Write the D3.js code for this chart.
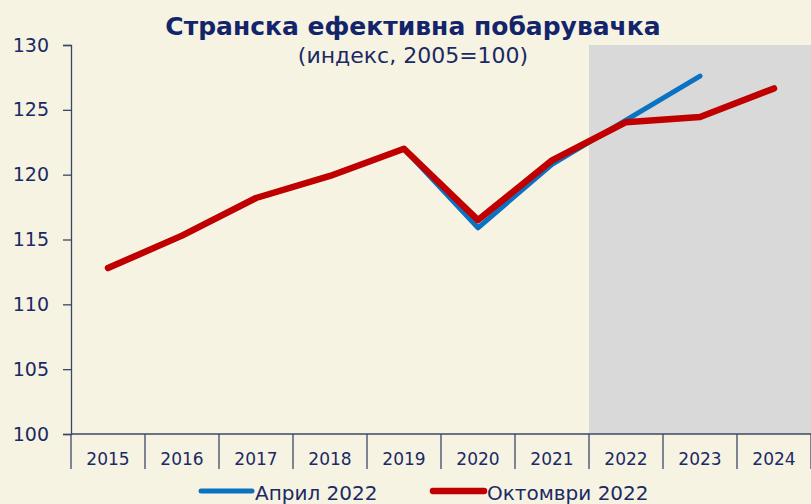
<!DOCTYPE html>
<html>
<head>
<meta charset="utf-8">
<script src="https://cdn.jsdelivr.net/npm/d3@7"></script>
<style>
  html, body { margin: 0; padding: 0; background: #f6f3e3; }
  svg { display: block; }
  text { font-family: "DejaVu Sans", sans-serif; fill: #1b2a63; }
</style>
</head>
<body>
<svg id="chart" width="811" height="504"></svg>
<script>
// Foreign effective demand, index 2005=100
const years = ["2015", "2016", "2017", "2018", "2019", "2020", "2021", "2022", "2023", "2024"];
const april2022 = [112.8, 115.3, 118.2, 119.9, 122.0, 115.9, 120.8, 124.2, 127.6, null];
const october2022 = [112.8, 115.3, 118.2, 119.9, 122.0, 116.5, 121.1, 124.05, 124.45, 126.65];
const yTicks = [100, 105, 110, 115, 120, 125, 130];
const forecastYears = ["2022", "2023", "2024"];
const seriesNames = ["Април 2022", "Октомври 2022"];

const svg = d3.select("#chart");
const W = 811, H = 504;
const m = { left: 71, right: 0, top: 45, bottom: 70 };

const x = d3.scaleBand().domain(years).range([m.left, W - m.right]).padding(0);
const y = d3.scaleLinear().domain([100, 130]).range([H - m.bottom, m.top]);

// Forecast shading
svg.append("rect")
  .attr("x", x(forecastYears[0]))
  .attr("y", y(130))
  .attr("width", x(forecastYears[forecastYears.length - 1]) + x.bandwidth() - x(forecastYears[0]))
  .attr("height", y(100) - y(130))
  .attr("fill", "#d9d9d9");

// Y axis
const yAxis = svg.append("g")
  .attr("transform", `translate(${m.left},0)`)
  .call(d3.axisLeft(y).tickValues(yTicks).tickSize(8).tickPadding(14).tickFormat(d3.format("d")));
yAxis.attr("font-size", null).attr("font-family", null);
yAxis.select(".domain").attr("stroke", "#3b4766").attr("stroke-width", 1.3);
yAxis.selectAll(".tick line").attr("stroke", "#3b4766").attr("stroke-width", 1.3);
yAxis.selectAll(".tick text")
  .attr("font-size", 19)
  .style("fill", "#1b2a63");

// X axis: category separators extending below the baseline
const xg = svg.append("g").attr("transform", `translate(0,${y(100)})`);
xg.append("line")
  .attr("x1", m.left).attr("x2", W)
  .attr("stroke", "#3b4766").attr("stroke-width", 1.3);
const bounds = years.map(d => x(d)).concat([x(years[years.length - 1]) + x.bandwidth()]);
xg.selectAll("line.sep").data(bounds).join("line")
  .attr("class", "sep")
  .attr("x1", d => d).attr("x2", d => d)
  .attr("y1", 0).attr("y2", 35)
  .attr("stroke", "#3b4766").attr("stroke-width", 1.3);
xg.selectAll("text.yl").data(years).join("text")
  .attr("class", "yl")
  .attr("x", d => x(d) + x.bandwidth() / 2)
  .attr("y", 31)
  .attr("text-anchor", "middle")
  .attr("font-size", 17)
  .text(d => d);

// Lines
const line = d3.line()
  .defined(d => d.v != null)
  .x(d => x(d.year) + x.bandwidth() / 2)
  .y(d => y(d.v));

const toPts = arr => years.map((yr, i) => ({ year: yr, v: arr[i] }));

svg.append("path")
  .datum(toPts(april2022))
  .attr("d", line)
  .attr("fill", "none")
  .attr("stroke", "#0a72c2")
  .attr("stroke-width", 5)
  .attr("stroke-linecap", "round")
  .attr("stroke-linejoin", "round");

svg.append("path")
  .datum(toPts(october2022))
  .attr("d", line)
  .attr("fill", "none")
  .attr("stroke", "#c00000")
  .attr("stroke-width", 6.5)
  .attr("stroke-linecap", "round")
  .attr("stroke-linejoin", "round");

// Titles
svg.append("text")
  .attr("x", 413).attr("y", 35)
  .attr("text-anchor", "middle")
  .attr("font-size", 25).attr("font-weight", "bold")
  .style("fill", "#14246a")
  .text("Странска ефективна побарувачка");
svg.append("text")
  .attr("x", 413).attr("y", 63)
  .attr("text-anchor", "middle")
  .attr("font-size", 22)
  .text("(индекс, 2005=100)");

// Legend
const legendColors = ["#0a72c2", "#c00000"];
const legendX = [201, 433];
const lg = svg.append("g").attr("transform", "translate(0,491)");
seriesNames.forEach((name, i) => {
  lg.append("line")
    .attr("x1", legendX[i]).attr("x2", legendX[i] + 51)
    .attr("y1", 0).attr("y2", 0)
    .attr("stroke", legendColors[i]).attr("stroke-width", i === 0 ? 5 : 6.5)
    .attr("stroke-linecap", "round");
  lg.append("text")
    .attr("x", legendX[i] + 54).attr("y", 9)
    .attr("font-size", 20)
    .text(name);
});
</script>
</body>
</html>
